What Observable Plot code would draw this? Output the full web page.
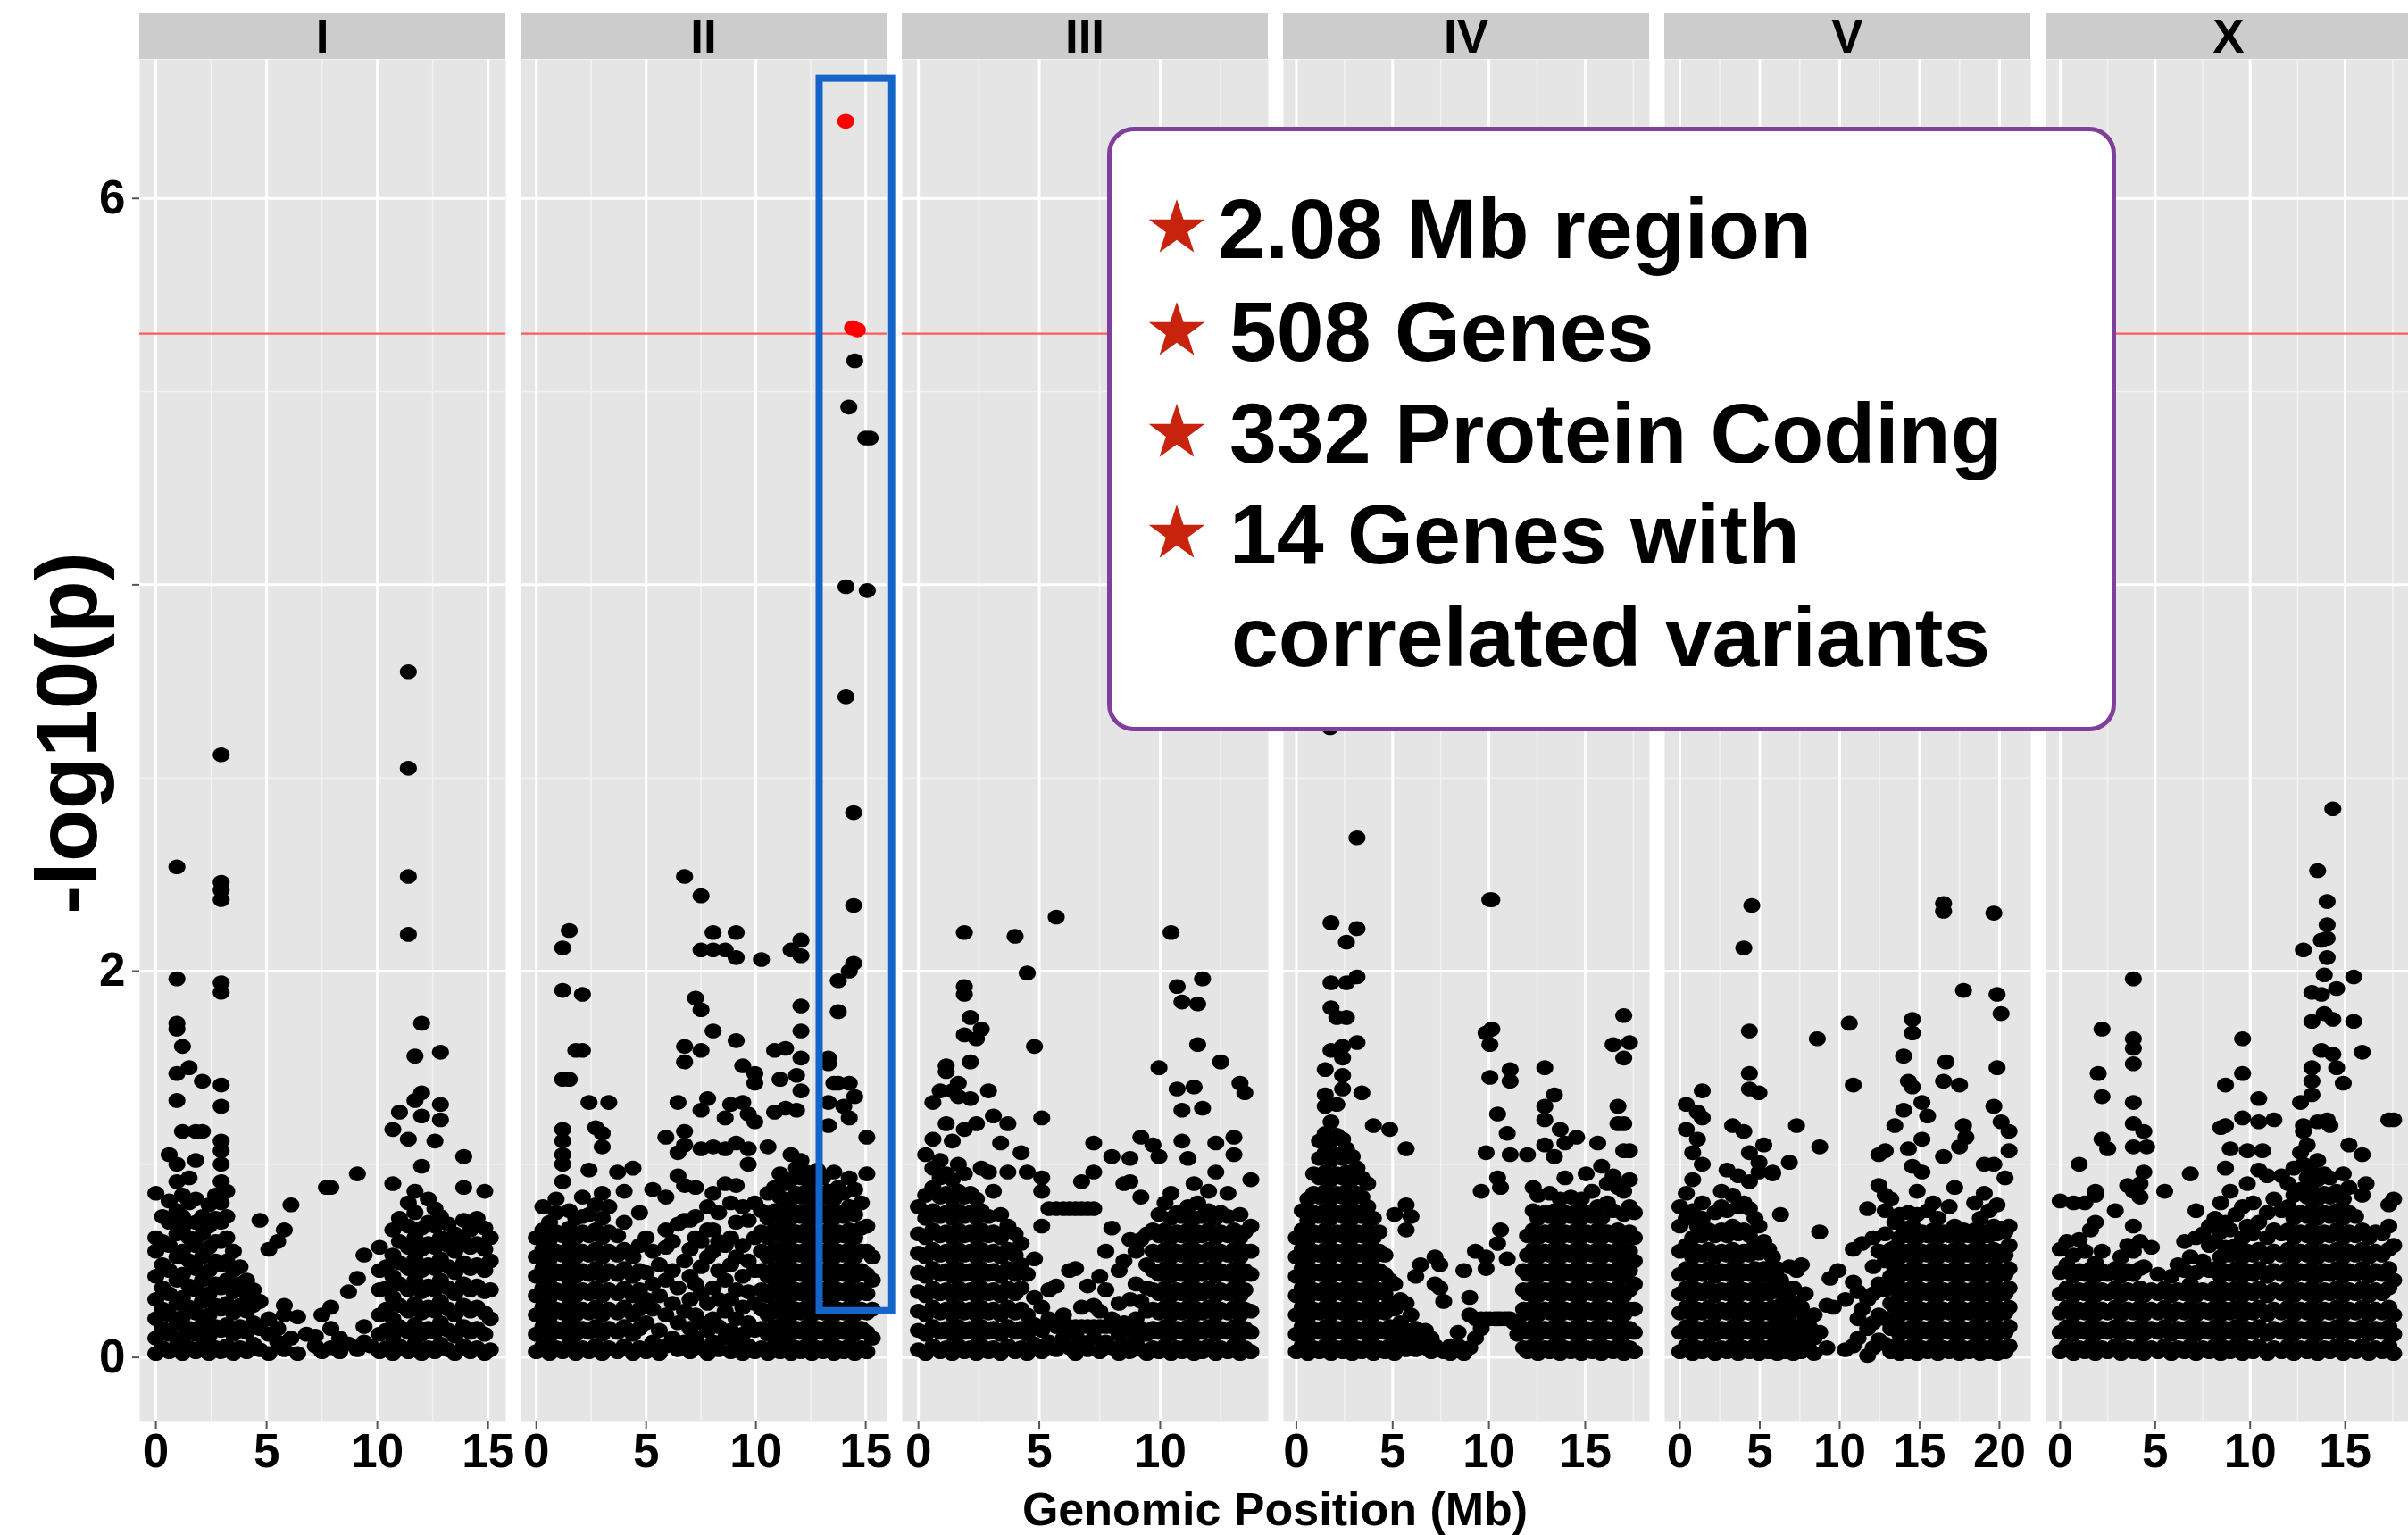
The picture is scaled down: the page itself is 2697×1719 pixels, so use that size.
<!DOCTYPE html>
<html>
<head>
<meta charset="utf-8">
<script src="https://cdn.jsdelivr.net/npm/d3@7"></script>
<script src="https://cdn.jsdelivr.net/npm/@observablehq/plot@0.6"></script>
<style>
html, body { margin: 0; padding: 0; background: #fff; overflow: hidden; }
#chart { position: relative; width: 2697px; height: 1719px; overflow: hidden; background: #fff;
  font-family: "Liberation Sans", Arial, sans-serif; }
.strip { position: absolute; top: 14px; height: 52px; background: #CCCCCC; color: #000; font-weight: bold;
  font-size: 53px; line-height: 54px; text-align: center; }
.panel { position: absolute; top: 66px; }
.ylab { position: absolute; left: 75px; top: 821px; transform: translate(-50%, -50%) rotate(-90deg);
  font-weight: bold; font-size: 96px; line-height: 96px; white-space: nowrap; color: #000; }
.xlab { position: absolute; left: 1428px; top: 1664px; transform: translateX(-50%); font-weight: bold;
  font-size: 52px; line-height: 52px; white-space: nowrap; color: #000; }
.box { position: absolute; left: 1240px; top: 142px; width: 1120px; height: 667px; background: #fff;
  border: 5px solid #7F3F9A; border-radius: 30px; }
.ann { position: absolute; font-weight: bold; font-size: 95px; line-height: 95px; white-space: nowrap; color: #000; }
.star { position: absolute; }
</style>
</head>
<body>
<div id="chart"></div>
<script>
// ---------------- data ----------------
// each row: [position (Mb), -log10(p) values of markers at about that position]
const chrI = [
  [0.0,0.02,0.1,0.2,0.3,0.42,0.55,0.62,0.85],
  [0.3,0.05,0.15,0.25,0.36,0.48,0.6,0.73],
  [0.6,0.03,0.12,0.22,0.33,0.45,0.58,0.7,0.81,1.05],
  [0.95,0.06,0.17,0.28,0.4,0.52,0.64,0.76,0.91,1.0,1.33,1.47,1.7,1.73,1.96,2.54],
  [1.2,0.02,0.1,0.21,0.31,0.43,0.55,0.67,0.73,0.84,1.17,1.61],
  [1.5,0.05,0.15,0.26,0.37,0.5,0.62,0.8,0.93,1.5],
  [1.8,0.03,0.12,0.23,0.35,0.46,0.58,0.7,0.82,1.02,1.17],
  [2.1,0.06,0.17,0.29,0.4,0.52,0.64,0.73,1.17,1.43],
  [2.4,0.02,0.11,0.22,0.33,0.45,0.57,0.68,0.79],
  [2.7,0.05,0.16,0.27,0.38,0.5,0.6,0.72,0.84],
  [2.95,0.03,0.14,0.25,0.36,0.48,0.6,0.7,0.8,0.91,1.0,1.07,1.12,1.3,1.41,1.89,1.94,2.37,2.42,2.46,3.12],
  [3.2,0.06,0.17,0.28,0.4,0.5,0.62,0.73,0.86],
  [3.5,0.02,0.12,0.23,0.34,0.45,0.55],
  [3.8,0.05,0.16,0.27,0.38,0.47],
  [4.1,0.03,0.13,0.24,0.33,0.4],
  [4.4,0.07,0.18,0.27,0.35],
  [4.7,0.04,0.15,0.29,0.71],
  [5.1,0.02,0.12,0.2,0.56],
  [5.5,0.08,0.15,0.6],
  [5.8,0.04,0.22,0.27,0.66],
  [6.1,0.1,0.79],
  [6.4,0.02,0.21],
  [6.8,0.12],
  [7.2,0.06,0.11],
  [7.5,0.03,0.22],
  [7.7,0.88],
  [7.9,0.05,0.15,0.26,0.88],
  [8.3,0.03,0.1],
  [8.7,0.07,0.34],
  [9.1,0.04,0.41,0.95],
  [9.4,0.08,0.16,0.53],
  [9.7,0.06],
  [10.1,0.03,0.12,0.22,0.35,0.45,0.57],
  [10.4,0.05,0.14,0.25,0.36,0.47],
  [10.7,0.02,0.11,0.2,0.31,0.42,0.53,0.66,0.9,1.18],
  [11.0,0.06,0.16,0.27,0.38,0.49,0.6,0.72,1.27],
  [11.4,0.03,0.13,0.24,0.35,0.46,0.57,0.68,0.8,1.13,2.19,2.49,3.05,3.55],
  [11.7,0.07,0.17,0.28,0.4,0.51,0.62,0.75,0.86,1.33,1.56],
  [12.0,0.02,0.12,0.23,0.34,0.45,0.56,0.67,0.99,1.25,1.37,1.73],
  [12.3,0.05,0.15,0.26,0.37,0.48,0.59,0.7,0.82],
  [12.6,0.03,0.13,0.24,0.35,0.46,0.57,0.68,0.77,1.12],
  [12.85,0.07,0.18,0.29,0.4,0.51,0.62,0.73,1.23,1.31,1.58],
  [13.2,0.04,0.14,0.25,0.36,0.47,0.58,0.69],
  [13.5,0.02,0.11,0.22,0.33,0.44,0.55,0.64],
  [13.9,0.06,0.16,0.27,0.38,0.49,0.6,0.71,0.88,1.04],
  [14.2,0.03,0.13,0.24,0.35,0.46,0.57,0.66],
  [14.5,0.05,0.15,0.26,0.37,0.48,0.59,0.72],
  [14.85,0.02,0.12,0.23,0.34,0.45,0.56,0.67,0.86],
  [15.1,0.04,0.2,0.35,0.5,0.62]
];

const chrII = [
  [0.0,0.03,0.12,0.22,0.32,0.42,0.52,0.62],
  [0.3,0.06,0.16,0.26,0.36,0.46,0.56,0.66,0.78],
  [0.6,0.02,0.11,0.21,0.31,0.41,0.51,0.61,0.7],
  [0.9,0.05,0.15,0.25,0.35,0.45,0.55,0.65,0.75,0.82],
  [1.2,0.03,0.13,0.23,0.33,0.43,0.53,0.63,0.91,1.0,1.05,1.12,1.18,1.44,1.9,2.12],
  [1.5,0.07,0.17,0.27,0.37,0.47,0.57,0.67,0.76,1.44,2.21],
  [1.8,0.02,0.12,0.22,0.32,0.42,0.52,0.62,0.72,1.59],
  [2.1,0.05,0.15,0.25,0.35,0.45,0.55,0.65,0.73,0.83,1.59,1.88],
  [2.4,0.03,0.13,0.23,0.33,0.43,0.53,0.63,0.74,0.97,1.32],
  [2.7,0.06,0.16,0.26,0.36,0.46,0.56,0.66,0.79,1.19],
  [3.0,0.02,0.12,0.22,0.32,0.42,0.52,0.62,0.72,0.85,1.09,1.16],
  [3.3,0.05,0.15,0.25,0.35,0.45,0.55,0.65,0.78,1.32],
  [3.7,0.03,0.13,0.23,0.33,0.43,0.53,0.63,0.96],
  [4.0,0.06,0.16,0.26,0.36,0.46,0.56,0.7,0.86],
  [4.4,0.02,0.12,0.22,0.32,0.42,0.52,0.98],
  [4.7,0.05,0.15,0.25,0.35,0.45,0.58,0.75],
  [5.0,0.03,0.18,0.3,0.44,0.62],
  [5.3,0.08,0.25,0.38,0.55,0.87],
  [5.6,0.02,0.14,0.32,0.48],
  [5.9,0.06,0.22,0.4,0.57,0.66,0.83,1.14],
  [6.2,0.1,0.28,0.45,0.6],
  [6.45,0.04,0.18,0.36,0.69,0.94,1.06,1.32],
  [6.75,0.08,0.24,0.5,0.71,0.89,1.1,1.17,1.53,1.61,2.49],
  [7.0,0.03,0.15,0.3,0.42,0.56,0.71],
  [7.25,0.1,0.22,0.38,0.62,0.73,0.88,1.86],
  [7.5,0.05,0.18,0.33,0.47,0.6,1.08,1.28,1.59,1.8,2.11,2.39],
  [7.8,0.02,0.14,0.28,0.52,0.66,0.78,1.34],
  [8.05,0.08,0.2,0.36,0.55,0.66,0.85,1.09,1.69,2.11,2.2],
  [8.3,0.04,0.16,0.3,0.45,0.6,0.75],
  [8.6,0.1,0.24,0.4,0.58,0.9,1.08,1.24,2.11],
  [8.85,0.03,0.14,0.3,0.48,0.62,0.8,1.31],
  [9.1,0.07,0.2,0.35,0.52,0.7,0.89,1.11,1.64,2.07,2.2],
  [9.4,0.02,0.12,0.26,0.42,0.58,0.78,1.32,1.51],
  [9.65,0.06,0.18,0.34,0.5,0.71,1.0,1.08,1.26],
  [9.95,0.03,0.14,0.28,0.45,0.62,0.8,1.22,1.42,1.47],
  [10.25,0.05,0.15,0.25,0.35,0.45,0.55,0.65,0.76,2.06],
  [10.55,0.02,0.12,0.22,0.32,0.42,0.52,0.62,0.72,0.85,1.09],
  [10.85,0.06,0.16,0.26,0.36,0.46,0.56,0.66,0.76,0.88,1.27,1.59],
  [11.1,0.03,0.13,0.23,0.33,0.43,0.53,0.63,0.73,0.83,0.95,1.44],
  [11.35,0.07,0.17,0.27,0.37,0.47,0.57,0.67,0.77,0.9,1.29,1.6],
  [11.6,0.02,0.12,0.22,0.32,0.42,0.52,0.62,0.72,0.82,0.92,1.05,2.11],
  [11.85,0.05,0.15,0.25,0.35,0.45,0.55,0.65,0.75,0.85,0.98,1.28,1.46],
  [12.05,0.03,0.13,0.23,0.33,0.43,0.53,0.63,0.73,0.83,0.93,1.02,1.38,1.55,1.69,1.82,2.08,2.16],
  [12.3,0.06,0.16,0.26,0.36,0.46,0.56,0.66,0.76,0.86,0.96],
  [12.55,0.02,0.12,0.22,0.32,0.42,0.52,0.62,0.72,0.82,0.92],
  [12.8,0.05,0.15,0.25,0.35,0.45,0.55,0.65,0.75,0.85,0.97],
  [13.05,0.03,0.13,0.23,0.33,0.43,0.53,0.63,0.73,0.83,0.93],
  [13.3,0.06,0.16,0.26,0.36,0.46,0.56,0.66,0.76,0.86,1.2,1.32,1.52,1.55],
  [13.55,0.02,0.12,0.22,0.32,0.42,0.52,0.62,0.72,0.82,0.96,1.42],
  [13.75,0.05,0.15,0.25,0.35,0.45,0.55,0.65,0.75,0.88,1.42,1.79,1.95],
  [14.0,0.03,0.13,0.23,0.33,0.43,0.53,0.63,0.73,0.85,1.3],
  [14.25,0.06,0.16,0.26,0.36,0.46,0.56,0.66,0.78,0.93,1.24,1.42,2.0],
  [14.45,2.04,2.34,2.82],
  [14.1,3.42,3.99],
  [14.5,0.02,0.12,0.22,0.32,0.42,0.52,0.62,0.74,0.87,1.35,5.16],
  [14.23,4.92],
  [15.0,4.76],
  [15.2,4.76],
  [15.07,3.97],
  [14.8,0.05,0.15,0.25,0.35,0.45,0.55,0.67,0.8],
  [15.05,0.03,0.13,0.23,0.33,0.43,0.55,0.68,0.95,1.14],
  [15.3,0.1,0.25,0.4,0.52]
];
// markers above the significance threshold (drawn red)
const sigII = [[14.09, 6.40], [14.4, 5.33], [14.62, 5.32]];

const chrIII = [
  [0.0,0.04,0.14,0.24,0.34,0.44,0.54,0.64,0.78],
  [0.3,0.02,0.12,0.22,0.32,0.42,0.52,0.62,0.72,0.84,1.05],
  [0.6,0.06,0.16,0.26,0.36,0.46,0.56,0.66,0.76,0.88,0.98,1.13,1.32],
  [0.9,0.03,0.13,0.23,0.33,0.43,0.53,0.63,0.73,0.83,0.93,1.02,1.38],
  [1.15,0.05,0.15,0.25,0.35,0.45,0.55,0.65,0.75,0.85,0.95,1.21,1.48,1.51],
  [1.4,0.02,0.12,0.22,0.32,0.42,0.52,0.62,0.72,0.82,0.92,1.12,1.38],
  [1.65,0.06,0.16,0.26,0.36,0.46,0.56,0.66,0.76,0.86,1.0,1.35,1.42],
  [1.9,0.03,0.13,0.23,0.33,0.43,0.53,0.63,0.73,0.83,0.95,1.18,1.67,1.88,1.92,2.2],
  [2.15,0.05,0.15,0.25,0.35,0.45,0.55,0.65,0.75,0.85,1.34,1.53,1.76],
  [2.4,0.02,0.12,0.22,0.32,0.42,0.52,0.62,0.72,0.82,1.21,1.65],
  [2.6,0.06,0.16,0.26,0.36,0.46,0.56,0.66,0.76,0.98,1.7],
  [2.9,0.03,0.13,0.23,0.33,0.43,0.53,0.63,0.73,0.96,1.38],
  [3.1,0.05,0.15,0.25,0.35,0.45,0.55,0.65,0.86,1.25],
  [3.4,0.02,0.12,0.22,0.32,0.42,0.52,0.62,0.74,1.11],
  [3.7,0.06,0.16,0.26,0.36,0.46,0.56,0.68,0.96,1.21],
  [4.0,0.03,0.13,0.23,0.33,0.43,0.53,0.64,2.18],
  [4.25,0.05,0.15,0.25,0.36,0.48,0.59,1.06],
  [4.5,0.02,0.12,0.22,0.43,0.96,1.99],
  [4.8,0.07,0.17,0.31,0.51,1.61],
  [5.1,0.03,0.14,0.26,0.68,0.86,0.93,1.24],
  [5.4,0.08,0.2,0.35,0.77],
  [5.7,0.04,0.16,0.37,0.77,2.28],
  [6.0,0.1,0.16,0.22,0.77],
  [6.25,0.05,0.16,0.45,0.77],
  [6.5,0.02,0.12,0.16,0.46,0.77],
  [6.75,0.08,0.16,0.26,0.77,0.91],
  [7.0,0.04,0.16,0.37,0.77],
  [7.25,0.1,0.16,0.27,0.77,0.96,1.11],
  [7.5,0.03,0.16,0.24,0.42],
  [7.75,0.08,0.16,0.35,0.55],
  [8.0,0.05,0.16,0.2,0.67,1.04],
  [8.3,0.02,0.12,0.28,0.45],
  [8.5,0.07,0.18,0.5,0.9],
  [8.75,0.03,0.14,0.3,0.61,0.91,1.03],
  [9.0,0.08,0.2,0.38,0.55],
  [9.2,0.04,0.15,0.29,0.61,0.83,1.14],
  [9.45,0.02,0.12,0.24,0.36,0.48,0.64],
  [9.7,0.05,0.15,0.25,0.35,0.45,0.55,0.66,1.1],
  [9.95,0.03,0.13,0.23,0.33,0.43,0.53,0.63,0.74,1.04,1.5],
  [10.2,0.06,0.16,0.26,0.36,0.46,0.56,0.66,0.8],
  [10.45,0.02,0.12,0.22,0.32,0.42,0.52,0.62,0.72,0.85,2.2],
  [10.7,0.05,0.15,0.25,0.35,0.45,0.55,0.65,0.75,1.39,1.92],
  [10.9,0.03,0.13,0.23,0.33,0.43,0.53,0.63,0.73,1.12,1.28,1.84],
  [11.15,0.06,0.16,0.26,0.36,0.46,0.56,0.66,0.78,1.03],
  [11.4,0.02,0.12,0.22,0.32,0.42,0.52,0.62,0.72,0.9,1.4],
  [11.55,0.05,0.15,0.25,0.35,0.45,0.55,0.65,0.8,1.62,1.83],
  [11.75,0.03,0.13,0.23,0.33,0.43,0.53,0.63,0.73,1.29,1.96],
  [12.0,0.06,0.16,0.26,0.36,0.46,0.56,0.66,0.76,0.86],
  [12.3,0.02,0.12,0.22,0.32,0.42,0.52,0.62,0.72,0.96,1.11],
  [12.5,0.05,0.15,0.25,0.35,0.45,0.55,0.65,0.75,1.53],
  [12.8,0.03,0.13,0.23,0.33,0.43,0.53,0.63,0.73,0.85],
  [13.05,0.06,0.16,0.26,0.36,0.46,0.56,0.66,1.05,1.14],
  [13.3,0.02,0.12,0.22,0.32,0.42,0.52,0.62,0.74,1.42],
  [13.5,0.05,0.15,0.25,0.35,0.45,0.55,0.65,1.37],
  [13.75,0.03,0.13,0.24,0.43,0.55,0.68,0.92]
];

const chrIV = [
  [0.0,0.03,0.12,0.22,0.32,0.42,0.52,0.62],
  [0.3,0.06,0.16,0.26,0.36,0.46,0.56,0.66,0.76],
  [0.6,0.02,0.11,0.21,0.31,0.41,0.51,0.61,0.71,0.82],
  [0.9,0.05,0.15,0.25,0.35,0.45,0.55,0.65,0.75,0.85,0.95],
  [1.2,0.03,0.13,0.23,0.33,0.43,0.53,0.63,0.73,0.83,0.93,1.03,1.12],
  [1.5,0.06,0.16,0.26,0.36,0.46,0.56,0.66,0.76,0.86,0.96,1.06,1.16,1.3,1.36,1.49],
  [1.75,3.26],
  [1.8,0.02,0.12,0.22,0.32,0.42,0.52,0.62,0.72,0.82,0.92,1.02,1.12,1.22,1.59,1.81,1.94,2.25],
  [2.1,0.05,0.15,0.25,0.35,0.45,0.55,0.65,0.75,0.85,0.95,1.05,1.15,1.31,1.76],
  [2.4,0.03,0.13,0.23,0.33,0.43,0.53,0.63,0.73,0.83,0.93,1.03,1.13,1.39,1.46,1.55,1.61],
  [2.6,0.06,0.16,0.26,0.36,0.46,0.56,0.66,0.76,0.86,0.96,1.08,1.76,1.94,2.15],
  [2.9,0.02,0.12,0.22,0.32,0.42,0.52,0.62,0.72,0.82,0.92,1.04],
  [3.15,0.05,0.15,0.25,0.35,0.45,0.55,0.65,0.75,0.85,0.98,1.63,1.97,2.22,2.69],
  [3.4,0.03,0.13,0.23,0.33,0.43,0.53,0.63,0.73,0.83,0.93,1.37],
  [3.7,0.06,0.16,0.26,0.36,0.46,0.56,0.66,0.78,0.9],
  [4.0,0.02,0.12,0.22,0.32,0.42,0.52,0.62,0.72,1.2],
  [4.3,0.05,0.15,0.25,0.35,0.45,0.55,0.65],
  [4.6,0.03,0.13,0.23,0.33,0.43,0.53],
  [4.85,0.06,0.16,0.28,0.4,1.18],
  [5.1,0.02,0.12,0.25,0.38,0.74],
  [5.4,0.07,0.18,0.3],
  [5.7,0.04,0.14,0.28,0.66,0.79,1.08],
  [5.95,0.09,0.22,0.73],
  [6.2,0.04,0.15,0.42],
  [6.45,0.1,0.48],
  [6.7,0.05,0.14],
  [7.0,0.03,0.1],
  [7.2,0.06,0.38,0.52],
  [7.45,0.04,0.36,0.48],
  [7.65,0.03,0.29],
  [8.0,0.02,0.06],
  [8.4,0.06,0.13],
  [8.7,0.02,0.45],
  [9.0,0.05,0.22,0.31],
  [9.3,0.1,0.2,0.55],
  [9.6,0.15,0.2,0.86],
  [9.85,0.2,0.46,0.52,1.06,1.68],
  [10.05,0.2,1.45,1.62,2.37],
  [10.15,1.7,2.37],
  [10.3,0.2],
  [10.45,0.2,0.59,0.93,1.26],
  [10.6,0.2,0.66,0.88],
  [10.8,0.2],
  [10.95,0.2,0.51,1.16],
  [11.1,0.2,1.05,1.43,1.49],
  [11.3,0.18],
  [11.5,0.12,0.19],
  [11.8,0.05,0.15,0.25,0.35,0.45],
  [12.0,0.03,0.13,0.23,0.33,0.43,0.53,0.63,1.05],
  [12.3,0.06,0.16,0.26,0.36,0.46,0.56,0.66,0.76,0.88],
  [12.55,0.02,0.12,0.22,0.32,0.42,0.52,0.62,0.72,0.84],
  [12.9,0.05,0.15,0.25,0.35,0.45,0.55,0.65,0.75,1.1,1.23,1.3,1.5],
  [13.15,0.03,0.13,0.23,0.33,0.43,0.53,0.63,0.73,0.85],
  [13.4,0.06,0.16,0.26,0.36,0.46,0.56,0.66,0.76,1.04,1.36],
  [13.7,0.02,0.12,0.22,0.32,0.42,0.52,0.62,0.72,0.82,1.18],
  [13.95,0.05,0.15,0.25,0.35,0.45,0.55,0.65,0.75,0.93,1.11],
  [14.25,0.03,0.13,0.23,0.33,0.43,0.53,0.63,0.73,0.83],
  [14.55,0.06,0.16,0.26,0.36,0.46,0.56,0.66,0.76,1.14],
  [14.8,0.02,0.12,0.22,0.32,0.42,0.52,0.62,0.72,0.82],
  [15.05,0.05,0.15,0.25,0.35,0.45,0.55,0.65,0.75,0.95],
  [15.35,0.03,0.13,0.23,0.33,0.43,0.53,0.63,0.73,0.86],
  [15.65,0.06,0.16,0.26,0.36,0.46,0.56,0.66,0.78,1.11],
  [15.85,0.02,0.12,0.22,0.32,0.42,0.52,0.62,0.72,0.99],
  [16.15,0.05,0.15,0.25,0.35,0.45,0.55,0.65,0.8,0.9],
  [16.45,0.03,0.13,0.23,0.33,0.43,0.53,0.63,0.76,0.94,1.62],
  [16.7,0.06,0.16,0.26,0.36,0.46,0.56,0.66,0.88,1.21,1.3],
  [17.0,0.02,0.12,0.22,0.32,0.42,0.52,0.62,0.74,0.86,1.07,1.21,1.55,1.77],
  [17.3,0.05,0.15,0.25,0.35,0.45,0.55,0.65,0.78,0.92,1.07,1.63],
  [17.55,0.03,0.13,0.25,0.38,0.5,0.62,0.75]
];

const chrV = [
  [0.0,0.03,0.13,0.23,0.33,0.43,0.55,0.68,0.78],
  [0.4,0.06,0.16,0.26,0.36,0.46,0.58,0.72,0.85,1.18,1.31],
  [0.8,0.02,0.12,0.22,0.32,0.42,0.52,0.62,0.76,0.92,1.06],
  [1.1,0.05,0.15,0.25,0.35,0.45,0.55,0.68,1.13,1.27],
  [1.4,0.03,0.13,0.23,0.33,0.43,0.53,0.63,0.72,0.8,1.0,1.24,1.38],
  [1.8,0.06,0.16,0.26,0.36,0.46,0.56,0.66],
  [2.2,0.02,0.12,0.22,0.32,0.42,0.52,0.63,0.75],
  [2.6,0.05,0.15,0.25,0.35,0.45,0.55,0.66,0.78,0.86],
  [2.95,0.03,0.13,0.23,0.33,0.43,0.53,0.63,0.76,0.97],
  [3.3,0.06,0.16,0.26,0.36,0.46,0.56,0.68,0.84,1.2],
  [3.65,0.02,0.12,0.22,0.32,0.42,0.52,0.64,0.78,0.94],
  [4.0,0.05,0.15,0.25,0.35,0.45,0.55,0.66,0.8,1.17,2.12],
  [4.35,0.03,0.13,0.23,0.33,0.43,0.53,0.63,0.77,0.91,1.06,1.39,1.47,1.69],
  [4.5,2.34],
  [4.7,0.06,0.16,0.26,0.36,0.46,0.58,0.72],
  [4.95,0.02,0.12,0.22,0.32,0.42,0.54,0.68,0.96,1.01,1.37],
  [5.25,0.05,0.15,0.25,0.35,0.46,0.6,1.1],
  [5.55,0.03,0.13,0.23,0.33,0.44,0.56],
  [5.8,0.06,0.16,0.26,0.38,0.52,0.95,0.96],
  [6.1,0.02,0.12,0.22,0.34,0.46],
  [6.3,0.05,0.15,0.27,0.4,0.74],
  [6.6,0.03,0.13,0.25,0.36],
  [6.85,0.07,0.18,0.3,0.47,1.01],
  [7.1,0.02,0.12,0.24,0.36],
  [7.3,0.05,0.16,0.28,0.45,1.2],
  [7.6,0.03,0.13,0.26,0.48],
  [7.85,0.08,0.2,0.33],
  [8.1,0.04,0.16],
  [8.4,0.02,0.1,0.22],
  [8.6,1.65],
  [8.75,0.13,0.65,1.09],
  [9.2,0.05,0.27],
  [9.4,0.41],
  [9.6,0.26],
  [9.9,0.45],
  [10.35,0.04,0.3],
  [10.6,1.73],
  [10.85,0.06,0.39,0.56,1.41],
  [11.15,0.1,0.2,0.34],
  [11.4,0.25,0.59],
  [11.75,0.01,0.15,0.3,0.77],
  [12.1,0.05,0.18,0.33,0.47,0.62],
  [12.45,0.09,0.22,0.38,0.55,0.89,1.05],
  [12.85,0.07,0.2,0.35,0.5,0.64,0.76,0.84,1.07],
  [13.2,0.03,0.15,0.28,0.42,0.56,0.82],
  [13.45,0.06,0.16,0.26,0.36,0.46,0.57,0.7,1.2],
  [13.75,0.02,0.12,0.22,0.32,0.42,0.52,0.62,0.74],
  [14.0,0.05,0.15,0.25,0.35,0.45,0.55,0.67,1.28,1.56],
  [14.3,0.03,0.13,0.23,0.33,0.43,0.53,0.63,0.75,1.08,1.43],
  [14.55,0.06,0.16,0.26,0.36,0.46,0.56,0.68,0.99,1.4,1.68,1.75],
  [14.85,0.02,0.12,0.22,0.32,0.42,0.52,0.62,0.74,0.86],
  [15.15,0.05,0.15,0.25,0.35,0.45,0.55,0.65,0.96,1.13,1.32],
  [15.5,0.03,0.13,0.23,0.33,0.43,0.53,0.63,0.76,1.25],
  [15.85,0.06,0.16,0.26,0.36,0.46,0.56,0.66,0.8],
  [16.15,0.02,0.12,0.22,0.32,0.42,0.52,0.62,0.72],
  [16.5,0.05,0.15,0.25,0.35,0.45,0.55,0.65,1.04,1.43,2.31,2.35],
  [16.65,1.53],
  [16.85,0.03,0.13,0.23,0.33,0.43,0.53,0.63,0.78],
  [17.2,0.06,0.16,0.26,0.36,0.46,0.56,0.68,0.88],
  [17.5,0.02,0.12,0.22,0.32,0.42,0.52,0.62,1.09,1.41],
  [17.75,0.05,0.15,0.25,0.35,0.45,0.55,0.66,1.2,1.9],
  [17.9,1.14],
  [18.1,0.03,0.13,0.23,0.33,0.43,0.53,0.63],
  [18.45,0.06,0.16,0.26,0.36,0.46,0.56,0.66,0.8],
  [18.8,0.02,0.12,0.22,0.32,0.42,0.52,0.62,0.72],
  [19.05,0.05,0.15,0.25,0.35,0.45,0.55,0.65,0.85,1.0],
  [19.35,0.03,0.13,0.23,0.33,0.43,0.53,0.63,0.76],
  [19.65,0.06,0.16,0.26,0.36,0.46,0.56,0.68,1.0,1.3,2.3],
  [19.85,0.02,0.12,0.22,0.32,0.42,0.52,0.64,0.79,1.5,1.88],
  [20.1,0.05,0.15,0.25,0.35,0.45,0.55,0.67,1.22,1.78],
  [20.35,0.03,0.13,0.23,0.33,0.43,0.53,0.65,0.93],
  [20.6,0.06,0.16,0.26,0.36,0.46,0.58,0.68,1.07,1.17]
];

const chrX = [
  [0.0,0.03,0.13,0.23,0.33,0.44,0.56,0.81],
  [0.35,0.06,0.16,0.26,0.36,0.48,0.6],
  [0.7,0.02,0.12,0.22,0.32,0.42,0.53,0.8],
  [1.0,0.05,0.15,0.25,0.35,0.45,0.61,1.0],
  [1.3,0.03,0.13,0.23,0.33,0.43,0.55,0.8],
  [1.6,0.06,0.16,0.26,0.36,0.46,0.66],
  [1.85,0.02,0.12,0.22,0.32,0.42,0.49,0.7,0.84,0.86],
  [2.0,1.47],
  [2.2,0.05,0.15,0.25,0.35,0.45,0.55,1.13,1.35,1.7],
  [2.5,0.03,0.13,0.23,0.33,0.43,1.08],
  [2.9,0.06,0.16,0.26,0.36,0.46,0.76],
  [3.2,0.02,0.12,0.22,0.32,0.42,0.52],
  [3.55,0.05,0.15,0.25,0.35,0.45,0.58,0.89],
  [3.85,0.03,0.13,0.23,0.33,0.43,0.55,0.68,0.86,1.09,1.21,1.32,1.52,1.6,1.65,1.96],
  [4.2,0.06,0.16,0.26,0.36,0.46,0.6,0.83,0.9],
  [4.4,0.02,0.12,0.22,0.32,0.47,0.96,1.17],
  [4.55,1.09],
  [4.8,0.05,0.15,0.25,0.35,0.57],
  [5.15,0.03,0.13,0.23,0.33,0.43],
  [5.5,0.06,0.16,0.26,0.36,0.86],
  [5.85,0.02,0.12,0.22,0.32,0.42],
  [6.2,0.05,0.15,0.25,0.35,0.48],
  [6.55,0.03,0.13,0.23,0.33,0.45,0.6],
  [6.85,0.06,0.16,0.26,0.38,0.52,0.95],
  [7.15,0.02,0.12,0.22,0.32,0.44,0.62,0.76],
  [7.5,0.05,0.15,0.25,0.35,0.5,0.64],
  [7.85,0.03,0.13,0.23,0.33,0.45,0.58,0.68],
  [8.15,0.06,0.16,0.26,0.36,0.46,0.6,0.72],
  [8.45,0.02,0.12,0.22,0.32,0.42,0.52,0.65,0.8,1.19],
  [8.7,0.05,0.15,0.25,0.35,0.45,0.57,0.7,0.98,1.2,1.41],
  [8.95,0.03,0.13,0.23,0.33,0.43,0.53,0.66,0.86,1.08],
  [9.25,0.06,0.16,0.26,0.36,0.46,0.58,0.74],
  [9.6,0.02,0.12,0.22,0.32,0.42,0.52,0.62,0.78,1.24,1.47,1.65],
  [9.85,0.05,0.15,0.25,0.35,0.45,0.55,0.68,0.9,1.07],
  [10.15,0.03,0.13,0.23,0.33,0.43,0.53,0.64,0.8],
  [10.45,0.06,0.16,0.26,0.36,0.46,0.56,0.7,0.97,1.22,1.34],
  [10.65,1.07],
  [10.9,0.02,0.12,0.22,0.32,0.42,0.52,0.62,0.75,0.94],
  [11.25,0.05,0.15,0.25,0.35,0.45,0.55,0.66,0.82,1.23],
  [11.65,0.03,0.13,0.23,0.33,0.43,0.53,0.64,0.76,0.94],
  [12.0,0.06,0.16,0.26,0.36,0.46,0.56,0.66,0.78,0.9],
  [12.3,0.02,0.12,0.22,0.32,0.42,0.52,0.62,0.72,0.84,0.98],
  [12.65,0.05,0.15,0.25,0.35,0.45,0.55,0.65,0.75,0.87,1.06,1.32],
  [12.8,1.0,1.17,1.2,2.11],
  [13.0,0.03,0.13,0.23,0.33,0.43,0.53,0.63,0.73,0.83,0.93,1.1],
  [13.25,0.06,0.16,0.26,0.36,0.46,0.56,0.66,0.76,0.86,0.96,1.36,1.43,1.5,1.74,1.89],
  [13.55,0.02,0.12,0.22,0.32,0.42,0.52,0.62,0.72,0.82,0.92,1.02,1.22,2.52],
  [13.75,1.59,1.88,2.16],
  [13.9,0.05,0.15,0.25,0.35,0.45,0.55,0.65,0.75,0.85,0.95,1.78,1.98],
  [14.05,1.23,2.07,2.17,2.24,2.36],
  [14.2,0.03,0.13,0.23,0.33,0.43,0.53,0.63,0.73,0.83,0.93,1.2],
  [14.35,1.57,1.75,2.84],
  [14.55,0.06,0.16,0.26,0.36,0.46,0.56,0.66,0.76,0.86,1.5,1.91],
  [14.9,0.02,0.12,0.22,0.32,0.42,0.52,0.62,0.72,0.82,0.95,1.42],
  [15.2,0.05,0.15,0.25,0.35,0.45,0.55,0.65,0.75,0.88,1.1],
  [15.45,1.74,1.97],
  [15.55,0.03,0.13,0.23,0.33,0.43,0.53,0.63,0.73],
  [15.9,0.06,0.16,0.26,0.36,0.46,0.56,0.66,0.84,1.05,1.58],
  [16.1,0.9],
  [16.25,0.02,0.12,0.22,0.32,0.42,0.52,0.62],
  [16.6,0.05,0.15,0.25,0.35,0.45,0.55,0.65],
  [16.95,0.03,0.13,0.23,0.33,0.43,0.53,0.64],
  [17.3,0.06,0.16,0.26,0.36,0.46,0.56,0.68,0.79,1.23],
  [17.55,0.02,0.12,0.22,0.4,0.58,0.82,1.23]
];

const chromosomes = ["I", "II", "III", "IV", "V", "X"];
const chromData = [chrI, chrII, chrIII, chrIV, chrV, chrX];
const xDomains = [[-0.73, 15.8], [-0.7, 15.97], [-0.67, 14.47], [-0.67, 18.34], [-0.95, 21.96], [-0.75, 18.52]];
const xTicks = [[0, 5, 10, 15], [0, 5, 10, 15], [0, 5, 10], [0, 5, 10, 15], [0, 5, 10, 15, 20], [0, 5, 10, 15]];
const xMinor = [[2.5, 7.5, 12.5], [2.5, 7.5, 12.5], [2.5, 7.5, 12.5], [2.5, 7.5, 12.5, 17.5], [2.5, 7.5, 12.5, 17.5], [2.5, 7.5, 12.5, 17.5]];
const yDomain = [-0.33, 6.72];
const yTicks = [0, 2, 4, 6];
const yMinor = [1, 3, 5];
const threshold = [5.3];
const highlightRegion = [{x1: 12.9, x2: 16.2, y1: 0.24, y2: 6.62}];

const yLabel = "-log10(p)";
const xLabel = "Genomic Position (Mb)";
const annotationLines = ["2.08 Mb region", "508 Genes", "332 Protein Coding", "14 Genes with", "correlated variants"];
const annotationStar = [true, true, true, true, false];

// ---------------- layout ----------------
const panelLefts = [156, 583, 1010, 1437, 1864, 2291];
const panelWidth = 410;
const plotHeight = 1525;
const yAxisSpace = 156;
const annLeft = [1364, 1377, 1377, 1377, 1379];
const annBaseline = [288, 403, 517, 630, 745];
const dotR = 8.3;

// slightly wide elliptical marker, as in the picture
const ellipse = {
  draw(ctx, size) {
    const R = Math.sqrt(size / Math.PI);
    const rx = R * 1.15, ry = R, k = 0.5523;
    ctx.moveTo(rx, 0);
    ctx.bezierCurveTo(rx, ry * k, rx * k, ry, 0, ry);
    ctx.bezierCurveTo(-rx * k, ry, -rx, ry * k, -rx, 0);
    ctx.bezierCurveTo(-rx, -ry * k, -rx * k, -ry, 0, -ry);
    ctx.bezierCurveTo(rx * k, -ry, rx, -ry * k, rx, 0);
    ctx.closePath();
  }
};

const chart = document.getElementById("chart");
const font = "'Liberation Sans', Arial, sans-serif";

chromosomes.forEach((name, i) => {
  const pts = chromData[i].flatMap(([pos, ...vals]) => vals.map(v => ({pos, logp: v})));
  const ml = i === 0 ? yAxisSpace : 0;
  const marks = [
    Plot.frame({fill: "#E5E5E5", stroke: "none"}),
    Plot.gridX({ticks: xMinor[i], stroke: "#F2F2F2", strokeOpacity: 1, strokeWidth: 1.6}),
    Plot.gridY({ticks: yMinor, stroke: "#F2F2F2", strokeOpacity: 1, strokeWidth: 1.6}),
    Plot.gridX({ticks: xTicks[i], stroke: "#FFFFFF", strokeOpacity: 1, strokeWidth: 3}),
    Plot.gridY({ticks: yTicks, stroke: "#FFFFFF", strokeOpacity: 1, strokeWidth: 3}),
    Plot.axisX({ticks: xTicks[i], tickFormat: d => String(d), tickSize: 9, tickPadding: 5,
      fontSize: 53, fontWeight: "bold", color: "#000", stroke: "#555", strokeWidth: 2, label: null}),
    Plot.ruleY(threshold, {stroke: "#FF5A5A", strokeWidth: 2.2}),
    Plot.dot(pts, {x: "pos", y: "logp", r: dotR, symbol: ellipse, fill: "#000", stroke: "none"})
  ];
  if (i === 0) {
    marks.push(Plot.axisY({ticks: yTicks, tickFormat: d => (d === 4 ? "" : String(d)), tickSize: 8, tickPadding: 8,
      fontSize: 53, fontWeight: "bold", color: "#000", stroke: "#555", strokeWidth: 2, label: null}));
  }
  if (name === "II") {
    marks.push(Plot.dot(sigII, {x: d => d[0], y: d => d[1], r: dotR, symbol: ellipse, fill: "#FF0000", stroke: "none"}));
    marks.push(Plot.rect(highlightRegion, {x1: "x1", x2: "x2", y1: "y1", y2: "y2", fill: "none",
      stroke: "#1565C8", strokeWidth: 8}));
  }
  const svg = Plot.plot({
    width: ml + panelWidth,
    height: plotHeight + 120,
    marginLeft: ml, marginRight: 0, marginTop: 0, marginBottom: 120,
    x: {domain: xDomains[i]},
    y: {domain: yDomain, axis: i === 0 ? undefined : null},
    style: {fontFamily: font, background: "transparent", overflow: "visible", maxWidth: "none", color: "#000"},
    marks
  });
  const wrap = document.createElement("div");
  wrap.className = "panel";
  wrap.style.left = (panelLefts[i] - ml) + "px";
  wrap.appendChild(svg);
  chart.appendChild(wrap);

  const strip = document.createElement("div");
  strip.className = "strip";
  strip.style.left = panelLefts[i] + "px";
  strip.style.width = panelWidth + "px";
  strip.textContent = name;
  chart.appendChild(strip);
});

const yl = document.createElement("div");
yl.className = "ylab";
yl.textContent = yLabel;
chart.appendChild(yl);

const xl = document.createElement("div");
xl.className = "xlab";
xl.textContent = xLabel;
chart.appendChild(xl);

// annotation box
const box = document.createElement("div");
box.className = "box";
chart.appendChild(box);

function starPolygon(cx, cy, R, r) {
  const p = [];
  for (let k = 0; k < 10; k++) {
    const a = (-90 + k * 36) * Math.PI / 180;
    const rad = k % 2 ? r : R;
    p.push((cx + rad * Math.cos(a)).toFixed(2) + "," + (cy + rad * Math.sin(a)).toFixed(2));
  }
  return p.join(" ");
}

annotationLines.forEach((txt, k) => {
  const d = document.createElement("div");
  d.className = "ann";
  d.style.left = annLeft[k] + "px";
  d.style.top = (annBaseline[k] - 79) + "px";
  d.textContent = txt;
  chart.appendChild(d);
  if (annotationStar[k]) {
    const s = document.createElementNS("http://www.w3.org/2000/svg", "svg");
    s.setAttribute("width", 68);
    s.setAttribute("height", 64);
    s.setAttribute("class", "star");
    s.style.left = (1318 - 34) + "px";
    s.style.top = (annBaseline[k] - 66) + "px";
    const poly = document.createElementNS("http://www.w3.org/2000/svg", "polygon");
    poly.setAttribute("points", starPolygon(34, 34, 33, 12.8));
    poly.setAttribute("fill", "#C8230C");
    s.appendChild(poly);
    chart.appendChild(s);
  }
});
</script>
</body>
</html>
